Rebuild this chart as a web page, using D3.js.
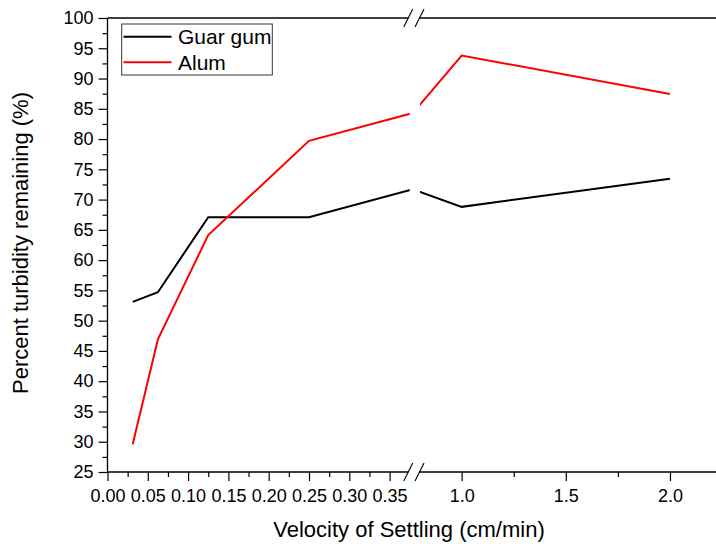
<!DOCTYPE html>
<html>
<head>
<meta charset="utf-8">
<script src="https://cdn.jsdelivr.net/npm/d3@7"></script>
<style>
  html, body { margin: 0; padding: 0; background: #fff; }
  svg { display: block; font-family: "Liberation Sans", Arial, sans-serif; }
</style>
</head>
<body>
<svg id="chart" width="716" height="547"></svg>
<script>
// ---- data ----
const velocity = [0.03125, 0.0625, 0.125, 0.25, 0.5, 1.0, 2.0];
const guarGum  = [53.1, 54.7, 67.1, 67.1, 71.7, 68.8, 73.45];
const alum     = [29.6, 46.9, 64.15, 79.7, 84.3, 93.8, 87.45];
const seriesNames = ["Guar gum", "Alum"];
const seriesColors = ["#000000", "#ff0000"];
const xTicksLeft = [0, 0.05, 0.10, 0.15, 0.20, 0.25, 0.30, 0.35];
const xMinorLeft = [0.025, 0.075, 0.125, 0.175, 0.225, 0.275, 0.325];
const xTicksRight = [1.0, 1.5, 2.0];
const xMinorRight = [1.25, 1.75];
const yTicks = d3.range(25, 100.1, 5);
const yMinor = d3.range(27.5, 100, 5);
const xTitle = "Velocity of Settling (cm/min)";
const yTitle = "Percent turbidity remaining (%)";

// ---- layout ----
const pLeft = 107.5, pRight = 716, pTop = 18, pBottom = 472;
const breakL = 409.75, breakR = 420;
const domLeft = [0, 0.375], domRight = [0.8, 2.221];

const svg = d3.select("#chart");

const xL = d3.scaleLinear().domain(domLeft).range([pLeft, breakL]);
const xR = d3.scaleLinear().domain(domRight).range([breakR, pRight]);
const xAll = d3.scaleLinear().domain([domLeft[0], domLeft[1], domRight[0], domRight[1]])
  .range([pLeft, breakL, breakR, pRight]);
const y = d3.scaleLinear().domain([25, 100]).range([pBottom, pTop]);

// clip for broken lines
const defs = svg.append("defs");
const cp = defs.append("clipPath").attr("id", "brk");
cp.append("rect").attr("x", 0).attr("y", 0).attr("width", breakL).attr("height", 547);
cp.append("rect").attr("x", breakR).attr("y", 0).attr("width", 716 - breakR).attr("height", 547);

// data lines
const line = d3.line().x(d => xAll(d[0])).y(d => y(d[1]));
const lines = svg.append("g").attr("clip-path", "url(#brk)");
[guarGum, alum].forEach((vals, i) => {
  lines.append("path")
    .datum(velocity.map((v, j) => [v, vals[j]]))
    .attr("d", line)
    .attr("fill", "none")
    .attr("stroke", seriesColors[i])
    .attr("stroke-width", 2)
    .attr("stroke-linejoin", "miter");
});

function styleAxis(g) {
  g.selectAll("path.domain").remove();
  g.selectAll(".tick line").attr("stroke", "#000").attr("stroke-width", 1.2);
  g.selectAll(".tick text").attr("fill", "#000").style("font-size", "18px")
    .style("font-family", '"Liberation Sans", Arial, sans-serif');
}

// bottom axis segments
const gxL = svg.append("g").attr("transform", `translate(0,${pBottom})`)
  .call(d3.axisBottom(xL).tickValues(xTicksLeft).tickFormat(d3.format(".2f")).tickSize(9).tickPadding(8));
styleAxis(gxL);
const gxLm = svg.append("g").attr("transform", `translate(0,${pBottom})`)
  .call(d3.axisBottom(xL).tickValues(xMinorLeft).tickFormat("").tickSize(5));
styleAxis(gxLm);
const gxR = svg.append("g").attr("transform", `translate(0,${pBottom})`)
  .call(d3.axisBottom(xR).tickValues(xTicksRight).tickFormat(d3.format(".1f")).tickSize(9).tickPadding(8));
styleAxis(gxR);
const gxRm = svg.append("g").attr("transform", `translate(0,${pBottom})`)
  .call(d3.axisBottom(xR).tickValues(xMinorRight).tickFormat("").tickSize(5));
styleAxis(gxRm);

// left axis
const gy = svg.append("g").attr("transform", `translate(${pLeft},0)`)
  .call(d3.axisLeft(y).tickValues(yTicks).tickFormat(d3.format("d")).tickSize(9).tickPadding(5));
styleAxis(gy);
const gym = svg.append("g").attr("transform", `translate(${pLeft},0)`)
  .call(d3.axisLeft(y).tickValues(yMinor).tickFormat("").tickSize(5));
styleAxis(gym);

// axis lines (frame)
const ax = svg.append("g").attr("stroke", "#000").attr("stroke-width", 1.3).attr("fill", "none");
ax.append("line").attr("x1", pLeft).attr("x2", pLeft).attr("y1", pTop).attr("y2", pBottom);
[pTop, pBottom].forEach(yy => {
  ax.append("line").attr("x1", pLeft).attr("x2", breakL - 1.5).attr("y1", yy).attr("y2", yy);
  ax.append("line").attr("x1", breakR - 0.5).attr("x2", pRight).attr("y1", yy).attr("y2", yy);
  [breakL - 1.5, breakR - 0.5].forEach(cx => {
    ax.append("line").attr("x1", cx - 4.5).attr("y1", yy + 9).attr("x2", cx + 4.5).attr("y2", yy - 9)
      .attr("stroke-width", 1.1);
  });
});

// titles
svg.append("text").attr("x", 409).attr("y", 537).attr("text-anchor", "middle")
  .style("font-size", "22px").attr("fill", "#000").text(xTitle);
svg.append("text").attr("transform", "translate(28,243) rotate(-90)").attr("text-anchor", "middle")
  .style("font-size", "22px").attr("fill", "#000").text(yTitle);

// legend
const lg = svg.append("g");
lg.append("rect").attr("x", 121.7).attr("y", 24).attr("width", 150.6).attr("height", 51)
  .attr("fill", "#fff").attr("stroke", "#333").attr("stroke-width", 1);
seriesNames.forEach((name, i) => {
  const yy = 36.7 + i * 25.6;
  lg.append("line").attr("x1", 123.5).attr("x2", 171.5).attr("y1", yy).attr("y2", yy)
    .attr("stroke", seriesColors[i]).attr("stroke-width", 2);
  lg.append("text").attr("x", 178).attr("y", yy + 7.5).style("font-size", "21px")
    .attr("fill", "#000").text(name);
});
</script>
</body>
</html>
